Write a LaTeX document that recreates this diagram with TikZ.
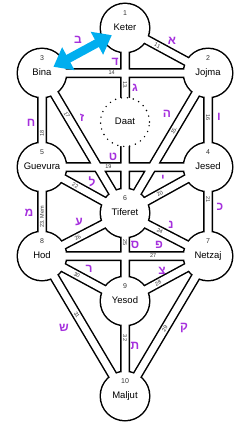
\documentclass[tikz,border=0pt]{standalone}
\usepackage{fontspec}
\setmainfont{Liberation Sans}
\newfontfamily\hebfont[Script=Hebrew]{Liberation Sans}
\TeXXeTstate=1
\usetikzlibrary{arrows.meta,backgrounds}
\definecolor{letter}{HTML}{A530DD}
\definecolor{arrowblue}{HTML}{00AEEF}
\definecolor{numgray}{HTML}{333333}
\newcommand{\heb}[1]{{\hebfont\bfseries\beginR #1\endR}}

\begin{document}
\begin{tikzpicture}[
  x=1pt, y=-1pt,
  sefira/.style={circle, fill=white, minimum size=48pt, inner sep=0pt,
                 font=\fontsize{9.5}{10}\selectfont, text height=7pt, text depth=2pt,
                 label={[num, yshift=15pt]center:#1}},
  daat/.style={circle, fill=white, draw, minimum size=49pt, inner sep=0pt,
               line width=1.6pt, dash pattern=on 0pt off 6pt, line cap=round,
               font=\fontsize{9.5}{10}\selectfont, text height=7pt, text depth=2pt},
  num/.style={font=\fontsize{7}{7}\selectfont, text=numgray, inner sep=0pt},
  chan/.style={draw=black, line width=1.5pt, double=white, double distance=7pt},
  pnum/.style={font=\fontsize{5.5}{6}\selectfont, text=numgray, inner sep=0pt},
  hebr/.style={text=letter, font=\fontsize{12}{12}\selectfont, inner sep=0pt},
  link/.style={{Triangle[length=17pt,width=25pt]}-{Triangle[length=17pt,width=25pt]},
               line width=8.5pt, arrowblue}
]
  \useasboundingbox (0,0) rectangle (250,428);

  \node[sefira=1] (keter) at (125,28) {Keter};
  \node[sefira=2] (jojma) at (208,73) {Jojma};
  \node[sefira=3] (bina) at (42,73) {Bina};
  \node[daat] (daat) at (125,122) {Daat};
  \node[sefira=4] (jesed) at (208,167) {Jesed};
  \node[sefira=5] (guevura) at (42,167) {Guevura};
  \node[sefira=6] (tiferet) at (125,213) {Tiferet};
  \node[sefira=7] (netzaj) at (208,256) {Netzaj};
  \node[sefira=8] (hod) at (42,256) {Hod};
  \node[sefira=9] (yesod) at (125,301) {Yesod};
  \node[sefira=10] (maljut) at (125,396) {Maljut};

  \begin{scope}[on background layer]
    \foreach \s in {keter,jojma,bina,jesed,guevura,tiferet,netzaj,hod,yesod,maljut}
      \fill (\s.center) circle (25.5pt);
    \draw[chan]
      (keter.center) -- node[pnum, pos=.39, rotate=-28.5] {11} (jojma.center)
      (keter.center) -- node[pnum, pos=.31, rotate=-90] {13.} (tiferet.center)
      (bina.center) -- node[pnum, pos=.42] {14} (jojma.center)
      (jojma.center) -- node[pnum, pos=.41, rotate=59.3] {15.} (tiferet.center)
      (jojma.center) -- node[pnum, pos=.47, rotate=-90] {16} (jesed.center)
      (bina.center) -- node[pnum, pos=.30, rotate=-59.3] {17} (tiferet.center)
      (bina.center) -- node[pnum, pos=.64, rotate=90] {18} (guevura.center)
      (guevura.center) -- node[pnum, pos=.40] {19} (jesed.center)
      (jesed.center) -- node[pnum, pos=.58, rotate=29] {20} (tiferet.center)
      (jesed.center) -- node[pnum, pos=.37, rotate=-90] {21} (netzaj.center)
      (guevura.center) -- node[pnum, pos=.40, rotate=-29] {22} (tiferet.center)
      (guevura.center) -- node[pnum, pos=.56, rotate=90] {23. Mem} (hod.center)
      (tiferet.center) -- node[pnum, pos=.42, rotate=-27.4] {24} (netzaj.center)
      (tiferet.center) -- node[pnum, pos=.34, rotate=-90] {25} (yesod.center)
      (hod.center) -- node[pnum, pos=.43, rotate=27.4] {26} (tiferet.center)
      (hod.center) -- node[pnum, pos=.67] {27} (netzaj.center)
      (yesod.center) -- node[pnum, pos=.40, rotate=28.5] {28} (netzaj.center)
      (maljut.center) -- node[pnum, pos=.48, rotate=59.3] {29} (netzaj.center)
      (hod.center) -- node[pnum, pos=.42, rotate=-28.5] {30} (yesod.center)
      (hod.center) -- node[pnum, pos=.42, rotate=-59.3] {31} (maljut.center)
      (yesod.center) -- node[pnum, pos=.39, rotate=-90] {32} (maljut.center);
  \end{scope}

  \node[hebr] (aleph) at (172,41) {\heb{א}};
  \node[hebr] (bet) at (78,40) {\heb{ב}};
  \node[hebr] (gimel) at (135,88) {\heb{ג}};
  \node[hebr] (dalet) at (115,62) {\heb{ד}};
  \node[hebr] (he) at (167,114) {\heb{ה}};
  \node[hebr] (vav) at (219,117) {\heb{ו}};
  \node[hebr] (zayin) at (82,118) {\heb{ז}};
  \node[hebr] (chet) at (31,123) {\heb{ח}};
  \node[hebr] (tet) at (113,157) {\heb{ט}};
  \node[hebr] (yod) at (163,179) {\heb{י}};
  \node[hebr] (kaf) at (220,207) {\heb{כ}};
  \node[hebr] (lamed) at (92,182) {\heb{ל}};
  \node[hebr] (mem) at (29,213) {\heb{מ}};
  \node[hebr] (nun) at (171,225) {\heb{נ}};
  \node[hebr] (samekh) at (135,245) {\heb{ס}};
  \node[hebr] (ayin) at (79,222) {\heb{ע}};
  \node[hebr] (pe) at (159,245) {\heb{פ}};
  \node[hebr] (tsadi) at (162,271) {\heb{צ}};
  \node[hebr] (qof) at (184,328) {\heb{ק}};
  \node[hebr] (resh) at (89,269) {\heb{ר}};
  \node[hebr] (shin) at (64,328) {\heb{ש}};
  \node[hebr] (tav) at (135,346) {\heb{ת}};

  \draw[link, shorten <=13pt, shorten >=15pt] (bina.center) -- (keter.center);
\end{tikzpicture}
\end{document}
